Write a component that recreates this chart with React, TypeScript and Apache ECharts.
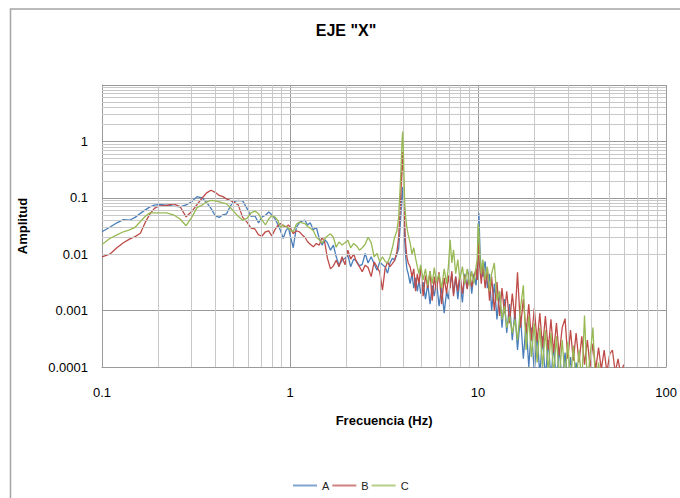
import React, { useEffect, useRef } from "react";
import * as echarts from "echarts";

// Frequencies (Hz) shared by the three spectra
const FREQ: number[] = [
  // 0.1 – 1 Hz
  0.10, 0.11, 0.12, 0.13, 0.14, 0.15, 0.16, 0.17, 0.18, 0.19,
  0.20, 0.22, 0.24, 0.26, 0.28, 0.30, 0.32, 0.34, 0.36, 0.38,
  0.40, 0.42, 0.44, 0.46, 0.48, 0.50, 0.53, 0.56, 0.59, 0.62,
  0.65, 0.68, 0.71, 0.74, 0.77, 0.80, 0.83, 0.86, 0.89, 0.92,
  0.95, 0.98,
  // 1 – 4.25 Hz
  1.00, 1.04, 1.08, 1.12, 1.16, 1.20, 1.24, 1.28, 1.33, 1.38,
  1.43, 1.48, 1.53, 1.58, 1.64, 1.70, 1.76, 1.82, 1.89, 1.96,
  2.03, 2.10, 2.18, 2.26, 2.34, 2.42, 2.51, 2.60, 2.70, 2.80,
  2.90, 3.00, 3.10, 3.20, 3.30, 3.40, 3.50, 3.60, 3.70, 3.78,
  3.85, 3.90, 3.94, 3.97, 4.00, 4.03, 4.07, 4.12, 4.18, 4.25,
  // 4.35 – 10.4 Hz
  4.35, 4.45, 4.55, 4.65, 4.75, 4.85, 4.95, 5.10, 5.25, 5.40,
  5.55, 5.70, 5.85, 6.00, 6.20, 6.40, 6.60, 6.80, 6.95, 7.10,
  7.25, 7.40, 7.60, 7.80, 8.00, 8.25, 8.50, 8.75, 9.00, 9.25,
  9.50, 9.75, 9.90, 10.00, 10.10, 10.25, 10.40,
  // 10.6 – 60 Hz
  10.6, 10.9, 11.2, 11.5, 11.8, 12.2, 12.6, 13.0, 13.4, 13.8,
  14.2, 14.7, 15.2, 15.7, 16.2, 16.8, 17.4, 18.0, 18.6, 19.2,
  19.9, 20.6, 21.3, 22.0, 22.8, 23.6, 24.4, 25.2, 26.1, 27.0,
  28.0, 29.0, 30.0, 31.0, 32.1, 33.2, 34.4, 35.6, 36.8, 38.1,
  39.4, 40.8, 42.2, 43.7, 45.2, 46.8, 48.4, 50.1, 51.8, 53.6,
  55.5, 57.4, 59.4,
];

const AMP_A: (number | null)[] = [
  0.025, 0.030, 0.036, 0.041, 0.040, 0.045, 0.053, 0.061, 0.069, 0.074,
  0.076, 0.074, 0.071, 0.069, 0.075, 0.085, 0.105, 0.100, 0.082, 0.065,
  0.048, 0.045, 0.050, 0.052, 0.070, 0.086, 0.090, 0.088, 0.065, 0.047,
  0.048, 0.036, 0.046, 0.049, 0.056, 0.050, 0.043, 0.034, 0.026, 0.019,
  0.026, 0.030,
  0.022, 0.013, 0.030, 0.036, 0.039, 0.040, 0.033, 0.036, 0.027, 0.030,
  0.019, 0.0145, 0.018, 0.016, 0.0118, 0.0145, 0.009, 0.0064, 0.0078, 0.0085,
  0.0095, 0.006, 0.0082, 0.0075, 0.0062, 0.0066, 0.0103, 0.007, 0.009, 0.0068,
  0.0052, 0.0073, 0.0065, 0.006, 0.0046, 0.007, 0.0085, 0.0078, 0.010, 0.0125,
  0.030, 0.060, 0.120, 0.155, 0.090, 0.045, 0.018, 0.009, 0.0055, 0.0045,
  0.0030, 0.0045, 0.0025, 0.0038, 0.0022, 0.0035, 0.0020, 0.0032, 0.0016, 0.0030,
  0.0013, 0.0028, 0.0018, 0.0035, 0.0012, 0.0026, 0.0009, 0.0022, 0.0016, 0.0030,
  0.0045, 0.0020, 0.0040, 0.0016, 0.0035, 0.0014, 0.0045, 0.0025, 0.0055, 0.0020,
  0.0045, 0.0028, 0.0060, 0.0200, 0.0530, 0.0100, 0.0050,
  0.0040, 0.0075, 0.0025, 0.0045, 0.0010, 0.0030, 0.0007, 0.0022, 0.0005, 0.0016,
  0.0004, 0.0013, 0.0003, 0.0010, 0.0002, 0.0008, 0.00014, 0.0006, 0.0001, 0.0005,
  0.00008, 0.0004, 0.00007, 0.00035, 0.00006, 0.0003, 0.00006, 0.00025, 0.00005, 0.00022,
  0.00005, 0.00018, 0.00005, 0.00015, 0.00004, 0.00012, 0.00004, 0.0001, 0.00004, 0.00008,
  null, null, null, null, null, null, null, null, null, null,
  null, null, null,
];

const AMP_B: (number | null)[] = [
  0.0090, 0.0100, 0.0130, 0.0160, 0.0185, 0.0205, 0.0235, 0.037, 0.052, 0.065,
  0.071, 0.073, 0.078, 0.070, 0.046, 0.057, 0.076, 0.098, 0.122, 0.136,
  0.125, 0.110, 0.105, 0.095, 0.090, 0.085, 0.075, 0.045, 0.037, 0.029,
  0.028, 0.022, 0.021, 0.025, 0.026, 0.021, 0.027, 0.032, 0.035, 0.032,
  0.030, 0.033,
  0.030, 0.023, 0.026, 0.025, 0.022, 0.020, 0.0166, 0.015, 0.0135, 0.0155,
  0.0145, 0.020, 0.016, 0.0085, 0.0055, 0.0062, 0.0078, 0.006, 0.009, 0.0065,
  0.0118, 0.0082, 0.010, 0.0072, 0.006, 0.0049, 0.0064, 0.0058, 0.004, 0.0073,
  0.006, 0.0048, 0.0023, 0.0055, 0.0073, 0.006, 0.0068, 0.0078, 0.011, 0.020,
  0.060, 0.160, 0.400, 0.650, 0.300, 0.090, 0.035, 0.015, 0.009, 0.007,
  0.0060, 0.0040, 0.0055, 0.0022, 0.0045, 0.0030, 0.0058, 0.0018, 0.0042, 0.0025,
  0.0050, 0.0015, 0.0040, 0.0022, 0.0048, 0.0013, 0.0038, 0.0020, 0.0042, 0.0025,
  0.0050, 0.0018, 0.0040, 0.0022, 0.0046, 0.0020, 0.0042, 0.0024, 0.0048, 0.0026,
  0.0040, 0.0055, 0.0035, 0.0160, 0.0090, 0.0050, 0.0030,
  0.0070, 0.0025, 0.0055, 0.0015, 0.0040, 0.0010, 0.0032, 0.0008, 0.0025, 0.0009,
  0.0022, 0.0006, 0.0020, 0.0007, 0.0048, 0.0005, 0.0016, 0.0004, 0.0013, 0.0003,
  0.0011, 0.00028, 0.0009, 0.00022, 0.0008, 0.0002, 0.0007, 0.00018, 0.0006, 0.00016,
  0.0005, 0.00072, 0.00014, 0.00045, 0.00013, 0.0004, 0.00012, 0.00035, 0.00011, 0.0003,
  0.0001, 0.00026, 0.00009, 0.00022, 0.00009, 0.0002, 0.00008, 0.00017, 0.0002, 0.00008,
  0.00014, 0.00007, 0.00011,
];

const AMP_C: (number | null)[] = [
  0.0148, 0.019, 0.022, 0.025, 0.027, 0.030, 0.038, 0.047, 0.054, 0.054,
  0.054, 0.054, 0.050, 0.042, 0.032, 0.045, 0.067, 0.074, 0.085, 0.090,
  0.088, 0.085, 0.081, 0.078, 0.068, 0.058, 0.047, 0.040, 0.043, 0.054,
  0.058, 0.052, 0.040, 0.033, 0.042, 0.048, 0.046, 0.040, 0.030, 0.033,
  0.031, 0.029,
  0.027, 0.025, 0.034, 0.037, 0.036, 0.035, 0.031, 0.029, 0.026, 0.020,
  0.018, 0.0157, 0.019, 0.021, 0.023, 0.020, 0.0133, 0.0165, 0.0145, 0.016,
  0.0177, 0.013, 0.0155, 0.014, 0.0118, 0.013, 0.015, 0.020, 0.016, 0.009,
  0.0103, 0.0073, 0.009, 0.0075, 0.007, 0.009, 0.013, 0.020, 0.026, 0.045,
  0.150, 0.400, 1.000, 1.500, 0.800, 0.300, 0.080, 0.045, 0.030, 0.022,
  0.016, 0.010, 0.013, 0.0085, 0.0060, 0.0045, 0.0065, 0.0035, 0.0055, 0.0028,
  0.0050, 0.0030, 0.0058, 0.0032, 0.0045, 0.0025, 0.0055, 0.0030, 0.0060, 0.0180,
  0.0070, 0.0120, 0.0045, 0.0080, 0.0035, 0.0060, 0.0030, 0.0055, 0.0028, 0.0050,
  0.0030, 0.0060, 0.0080, 0.0350, 0.0250, 0.0080, 0.0045,
  0.0080, 0.0035, 0.0060, 0.0022, 0.0045, 0.0070, 0.0015, 0.0022, 0.0007, 0.0012,
  0.0005, 0.0008, 0.0004, 0.0007, 0.0003, 0.0011, 0.0028, 0.0002, 0.0008, 0.00015,
  0.0006, 0.00012, 0.0005, 0.0001, 0.00045, 0.00008, 0.0004, 0.00007, 0.00035, 0.00006,
  0.0003, 0.00006, 0.00028, 0.00005, 0.00024, 0.00005, 0.0002, 0.00005, 0.00082, 0.00005,
  0.00016, 0.0005, 0.00004, 0.00012, 0.00004, null, null, null, null, null,
  null, null, null,
];

const SERIES_NAMES = ["A", "B", "C"];
const SERIES_COLORS = ["#4A7EBB", "#BE4B48", "#98B954"];

// Axis ranges (log10) and the minor subdivisions of each decade
const X_RANGE = [0.1, 100];
const Y_RANGE = [0.0001, 10];
const X_DECADES = [0.1, 1, 10];
const Y_DECADES = [0.0001, 0.001, 0.01, 0.1, 1];
const MINOR_STEPS = [2, 3, 4, 5, 6, 7, 8, 9];

const FONT = "'Liberation Sans', Arial, sans-serif";
const MAJOR_GRID = "#9a9a9a";
const MINOR_GRID = "#c8c8c8";

const fmt = (v: number) => String(parseFloat(v.toPrecision(6)));

export default function App() {
  const ref = useRef<HTMLDivElement>(null);

  useEffect(() => {
    if (!ref.current) return;
    const chart = echarts.init(ref.current, null, { renderer: "svg" });

    const pairs = (vals: (number | null)[]) =>
      FREQ.map((f, i) => [f, vals[i]]).filter((p) => p[1] != null);

    const minorX = X_DECADES.flatMap((d) =>
      MINOR_STEPS.map((k) => ({ xAxis: Number((d * k).toPrecision(3)) }))
    );
    const minorY = Y_DECADES.flatMap((d) =>
      MINOR_STEPS.map((k) => ({ yAxis: Number((d * k).toPrecision(3)) }))
    );

    const dataSeries = [AMP_A, AMP_B, AMP_C].map((vals, i) => ({
      name: SERIES_NAMES[i],
      type: "line",
      data: pairs(vals),
      symbol: "none",
      showSymbol: false,
      clip: true,
      z: 3 + i,
      lineStyle: { color: SERIES_COLORS[i], width: 1.3 },
      itemStyle: { color: SERIES_COLORS[i] },
    }));

    chart.setOption({
      animation: false,
      backgroundColor: "#ffffff",
      textStyle: { fontFamily: FONT },
      graphic: [
        {
          type: "rect",
          silent: true,
          shape: { x: 10.5, y: 9, width: 1000, height: 1000 },
          style: { fill: "none", stroke: "#a5a5a5", lineWidth: 1.5 },
        },
        {
          type: "text",
          x: 346,
          y: 30,
          style: {
            text: 'EJE "X"',
            textAlign: "center",
            textVerticalAlign: "middle",
            fontFamily: FONT,
            fontSize: 16,
            fontWeight: "bold",
            fill: "#000000",
          },
        },
      ],
      legend: {
        data: SERIES_NAMES.map((n, i) => ({
          name: n,
          icon: "rect",
          itemStyle: { color: SERIES_COLORS[i], opacity: 0.7 },
        })),
        left: 288,
        top: 475,
        itemWidth: 24,
        itemHeight: 2,
        itemGap: 3,
        textStyle: { fontFamily: FONT, fontSize: 11, color: "#222222" },
      },
      grid: { left: 102, top: 85, width: 568, height: 282, containLabel: false },
      xAxis: {
        type: "log",
        logBase: 10,
        min: X_RANGE[0],
        max: X_RANGE[1],
        name: "Frecuencia (Hz)",
        nameLocation: "middle",
        nameGap: 47,
        nameTextStyle: { fontFamily: FONT, fontSize: 13, fontWeight: "bold", color: "#000" },
        axisLine: { show: true, lineStyle: { color: MAJOR_GRID, width: 1 } },
        axisTick: { show: false },
        axisLabel: {
          margin: 19,
          fontSize: 13,
          color: "#000",
          fontFamily: FONT,
          formatter: (v: number) => fmt(v),
        },
        splitLine: { show: true, lineStyle: { color: MAJOR_GRID, width: 1 } },
      },
      yAxis: {
        type: "log",
        logBase: 10,
        min: Y_RANGE[0],
        max: Y_RANGE[1],
        name: "Amplitud",
        nameLocation: "middle",
        nameGap: 73,
        nameTextStyle: { fontFamily: FONT, fontSize: 13, fontWeight: "bold", color: "#000" },
        axisLine: { show: true, lineStyle: { color: MAJOR_GRID, width: 1 } },
        axisTick: { show: false },
        axisLabel: {
          margin: 14,
          fontSize: 13,
          color: "#000",
          fontFamily: FONT,
          formatter: (v: number) => (v >= Y_RANGE[1] ? "" : fmt(v)),
        },
        splitLine: { show: true, lineStyle: { color: MAJOR_GRID, width: 1 } },
      },
      series: [
        {
          name: "minor-grid",
          type: "line",
          data: [],
          z: 1,
          silent: true,
          markLine: {
            silent: true,
            symbol: ["none", "none"],
            label: { show: false },
            animation: false,
            lineStyle: { color: MINOR_GRID, width: 1, type: "solid" },
            emphasis: { disabled: true },
            data: [...minorX, ...minorY],
          },
        },
        ...dataSeries,
      ],
    });

    return () => chart.dispose();
  }, []);

  return (
    <div
      ref={ref}
      style={{ position: "fixed", left: 0, top: 0, width: 680, height: 498 }}
    />
  );
}
